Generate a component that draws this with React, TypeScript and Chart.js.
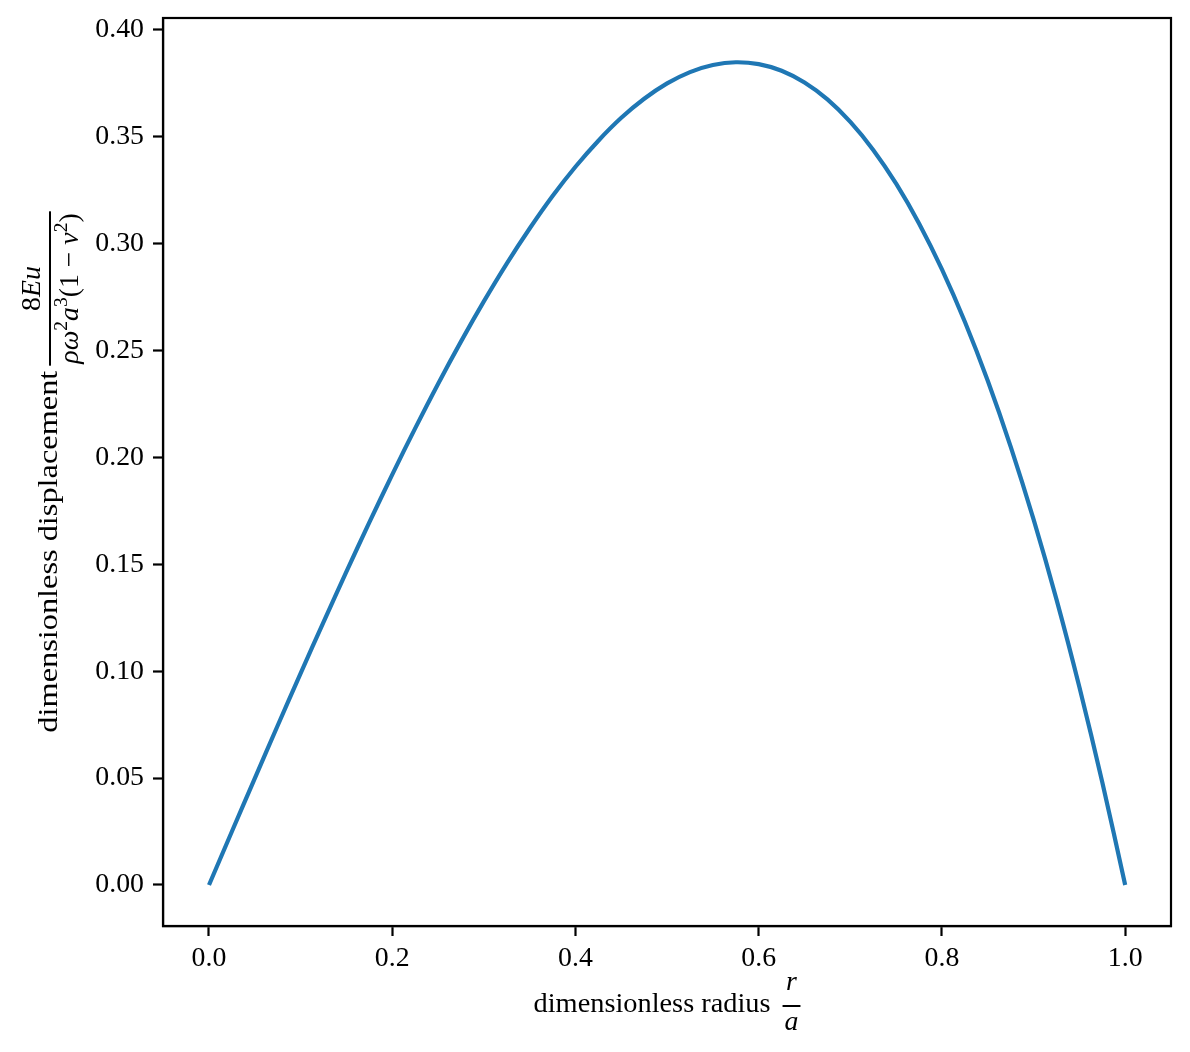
import React, { useEffect, useRef } from "react";
import { Chart, registerables } from "chart.js";

Chart.register(...registerables);

// dimensionless radius r/a
const radius = [
  0, 0.025, 0.05, 0.075, 0.1, 0.125, 0.15, 0.175, 0.2, 0.225, 0.25, 0.275, 0.3, 0.325, 0.35, 0.375, 0.4, 0.425, 0.45, 0.475,
  0.5, 0.525, 0.55, 0.575, 0.6, 0.625, 0.65, 0.675, 0.7, 0.725, 0.75, 0.775, 0.8, 0.825, 0.85, 0.875, 0.9, 0.925, 0.95, 0.975, 1.0,
];
// dimensionless displacement
const displacement = [
  0, 0.025, 0.0499, 0.0746, 0.099, 0.1230, 0.1466, 0.1696, 0.192, 0.2136, 0.2344, 0.2542, 0.273, 0.2907, 0.3071, 0.3223,
  0.336, 0.3482, 0.3589, 0.3678, 0.375, 0.3803, 0.3836, 0.3849, 0.384, 0.3809, 0.3754, 0.3675, 0.357, 0.3439, 0.3281,
  0.3095, 0.288, 0.2635, 0.2359, 0.2051, 0.171, 0.1336, 0.0926, 0.0481, 0,
];

const xTickValues = [0, 0.2, 0.4, 0.6, 0.8, 1.0];
const yTickValues = [0, 0.05, 0.1, 0.15, 0.2, 0.25, 0.3, 0.35, 0.4];

const FONT = '"Liberation Serif", "DejaVu Serif", serif';
const FS = 27.8;

type Seg = { t: string; it?: boolean; sup?: boolean };

function segFont(s: Seg) {
  return `${s.it ? "italic " : ""}${s.sup ? FS * 0.7 : FS}px ${FONT}`;
}
function measure(ctx: CanvasRenderingContext2D, segs: Seg[]) {
  let w = 0;
  for (const s of segs) {
    ctx.font = segFont(s);
    w += ctx.measureText(s.t).width;
  }
  return w;
}
function drawSegs(ctx: CanvasRenderingContext2D, segs: Seg[], x: number, y: number) {
  for (const s of segs) {
    ctx.font = segFont(s);
    ctx.fillText(s.t, x, s.sup ? y - FS * 0.4 : y);
    x += ctx.measureText(s.t).width;
  }
}
function drawLabelWithFraction(
  ctx: CanvasRenderingContext2D,
  text: string,
  textWidth: number,
  gap: number,
  num: Seg[],
  den: Seg[],
  cx: number,
  numOff: number,
  barOff: number,
  denOff: number
) {
  ctx.textAlign = "left";
  ctx.textBaseline = "alphabetic";
  ctx.fillStyle = "#000";
  ctx.font = `${FS}px ${FONT}`;
  const raw = ctx.measureText(text).width;
  const k = textWidth / raw;
  const nw = measure(ctx, num);
  const dw = measure(ctx, den);
  const fw = Math.max(nw, dw) + 4;
  const total = textWidth + gap + fw;
  let x = cx - total / 2;
  ctx.font = `${FS}px ${FONT}`;
  ctx.save();
  ctx.translate(x, 0);
  ctx.scale(k, 1);
  ctx.fillText(text, 0, 0);
  ctx.restore();
  x += textWidth + gap;
  drawSegs(ctx, num, x + (fw - nw) / 2, numOff);
  drawSegs(ctx, den, x + (fw - dw) / 2, denOff);
  ctx.fillRect(x, barOff - 1, fw, 2);
}

const labelPlugin = {
  id: "labels",
  afterDraw(chart: any) {
    const ctx: CanvasRenderingContext2D = chart.ctx;
    const a = chart.chartArea;
    ctx.save();
    ctx.strokeStyle = "#000";
    ctx.lineWidth = 2.2;
    ctx.strokeRect(a.left, a.top, a.right - a.left, a.bottom - a.top);
    ctx.restore();

    // x title
    ctx.save();
    ctx.translate(0, 1012);
    drawLabelWithFraction(
      ctx,
      "dimensionless radius",
      237,
      12,
      [{ t: "r", it: true }],
      [{ t: "a", it: true }],
      (a.left + a.right) / 2,
      -22,
      -6,
      18
    );
    ctx.restore();

    // y title
    ctx.save();
    ctx.translate(57, (a.top + a.bottom) / 2);
    ctx.rotate(-Math.PI / 2);
    drawLabelWithFraction(
      ctx,
      "dimensionless displacement",
      362,
      5,
      [{ t: "8" }, { t: "Eu", it: true }],
      [
        { t: "ρω", it: true },
        { t: "2", sup: true },
        { t: "a", it: true },
        { t: "3", sup: true },
        { t: "(1 − " },
        { t: "ν", it: true },
        { t: "2", sup: true },
        { t: ")" },
      ],
      0,
      -17,
      -7,
      21
    );
    ctx.restore();
  },
};

export default function App() {
  const ref = useRef<HTMLCanvasElement>(null);
  useEffect(() => {
    if (!ref.current) return;
    const chart = new Chart(ref.current, {
      type: "line",
      data: {
        datasets: [
          {
            data: radius.map((r, i) => ({ x: r, y: displacement[i] })),
            borderColor: "#1f77b4",
            borderWidth: 4.2,
            pointRadius: 0,
            tension: 0.3,
            fill: false,
          },
        ],
      },
      options: {
        responsive: false,
        animation: false,
        devicePixelRatio: 1,
        layout: { padding: { top: 18, right: 19, left: 0, bottom: 0 } },
        plugins: { legend: { display: false }, tooltip: { enabled: false } },
        scales: {
          x: {
            type: "linear",
            min: -0.0502,
            max: 1.05,
            afterBuildTicks: (s: any) => {
              s.ticks = xTickValues.map((v) => ({ value: v }));
            },
            afterFit: (s: any) => {
              s.height = 126;
              s.paddingLeft = 0;
              s.paddingRight = 0;
            },
            grid: { drawOnChartArea: false, drawTicks: true, tickLength: 10, tickWidth: 2.2, tickColor: "#000" },
            border: { display: true, color: "#000", width: 2.2 },
            ticks: {
              color: "#000",
              padding: 6,
              maxRotation: 0,
              autoSkip: false,
              font: { family: FONT, size: FS },
              callback: (v: any) => Number(v).toFixed(1),
            },
          },
          y: {
            type: "linear",
            min: -0.0192,
            max: 0.4056,
            afterBuildTicks: (s: any) => {
              s.ticks = yTickValues.map((v) => ({ value: v }));
            },
            afterFit: (s: any) => {
              s.width = 163;
              s.paddingTop = 0;
              s.paddingBottom = 0;
            },
            grid: { drawOnChartArea: false, drawTicks: true, tickLength: 10, tickWidth: 2.2, tickColor: "#000" },
            border: { display: true, color: "#000", width: 2.2 },
            ticks: {
              color: "#000",
              padding: 9,
              autoSkip: false,
              font: { family: FONT, size: FS },
              callback: (v: any) => Number(v).toFixed(2),
            },
          },
        },
      },
      plugins: [labelPlugin],
    } as any);
    return () => chart.destroy();
  }, []);
  return (
    <div style={{ position: "absolute", left: 0, top: 0, width: 1190, height: 1052, background: "#fff" }}>
      <canvas ref={ref} width={1190} height={1052} style={{ display: "block" }} />
    </div>
  );
}
